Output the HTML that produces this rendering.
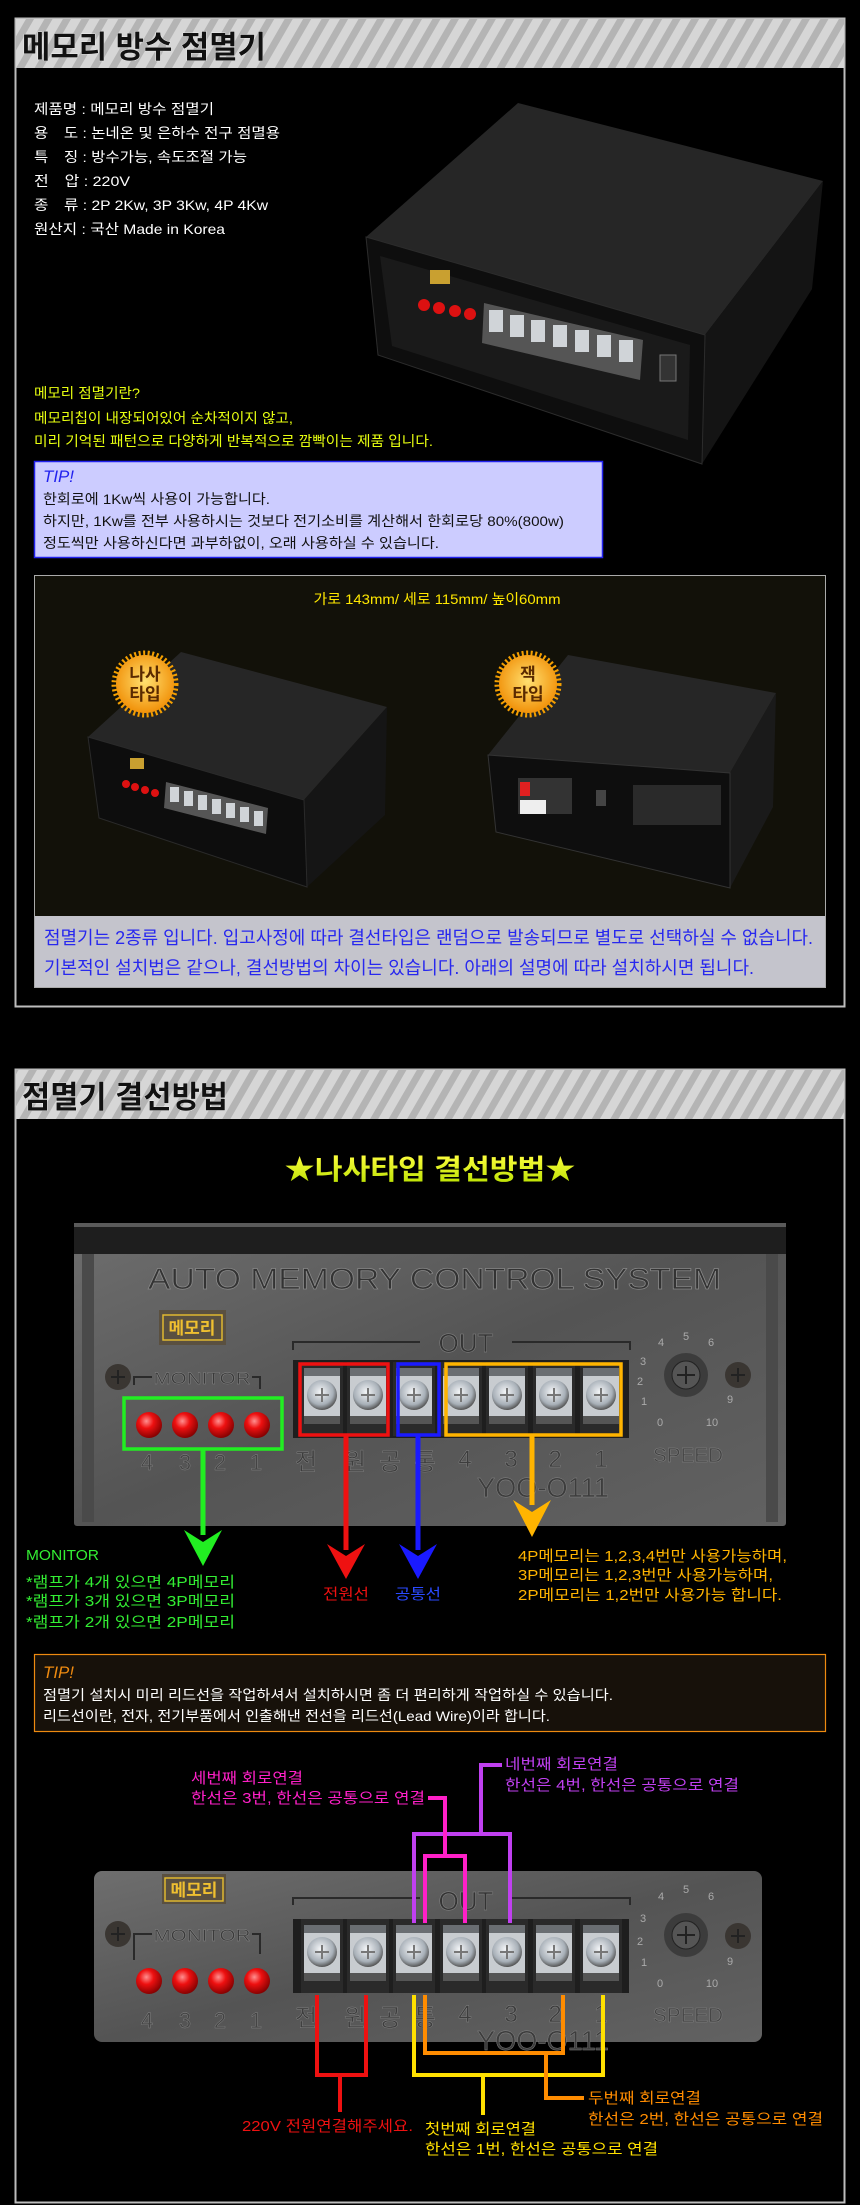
<!DOCTYPE html>
<html><head><meta charset="utf-8"><style>
html,body{margin:0;padding:0;background:#000;}
svg{display:block;}
text{font-family:"Liberation Sans","Noto Sans CJK KR",sans-serif;}
</style></head><body>
<svg width="860" height="2205" viewBox="0 0 860 2205" xmlns="http://www.w3.org/2000/svg">
<defs>
<pattern id="stripe" width="16" height="16" patternUnits="userSpaceOnUse" patternTransform="rotate(30)">
<rect width="16" height="16" fill="#d6d6d6"/><rect width="7" height="16" fill="#b4b4b4"/></pattern>
<linearGradient id="metal" x1="0" y1="0" x2="1" y2="1"><stop offset="0" stop-color="#6e6e6e"/><stop offset="0.5" stop-color="#545454"/><stop offset="1" stop-color="#626262"/></linearGradient>
<radialGradient id="led" cx="0.4" cy="0.35" r="0.7"><stop offset="0" stop-color="#ff9090"/><stop offset="0.4" stop-color="#ee1010"/><stop offset="1" stop-color="#7a0000"/></radialGradient>
<radialGradient id="screw" cx="0.45" cy="0.4" r="0.6"><stop offset="0" stop-color="#f4f6f8"/><stop offset="0.7" stop-color="#a8b0b8"/><stop offset="1" stop-color="#555"/></radialGradient>
<radialGradient id="badge" cx="0.5" cy="0.45" r="0.6"><stop offset="0" stop-color="#ffe070"/><stop offset="1" stop-color="#f08a00"/></radialGradient>
<linearGradient id="ttl" x1="0" y1="0" x2="0" y2="1"><stop offset="0" stop-color="#ffff40"/><stop offset="1" stop-color="#b8e000"/></linearGradient>
<g id="term"><rect x="-21" y="0" width="42" height="74" fill="#2a2a2a"/><rect x="-18" y="6" width="36" height="56" fill="#c8ccd0"/><rect x="-18" y="6" width="36" height="8" fill="#6a6e72"/><circle cx="0" cy="33" r="15" fill="url(#screw)"/><path d="M-7 33h14M0 26v14" stroke="#777" stroke-width="2"/><rect x="-18" y="54" width="36" height="8" fill="#555"/></g>
</defs>
<rect width="860" height="2205" fill="#000"/>

<!-- SECTION 1 -->
<rect x="15.5" y="18.5" width="829" height="988" fill="#000" stroke="#bdbdbd" stroke-width="2"/>
<rect x="16" y="19" width="828" height="49" fill="url(#stripe)"/>
<text x="22" y="58" font-size="31" font-weight="bold" fill="#111" stroke="#fff" stroke-width="0.6" paint-order="stroke" textLength="244" lengthAdjust="spacingAndGlyphs">메모리 방수 점멸기</text>

<g font-size="14" fill="#fff">
<text x="34" y="114" textLength="180" lengthAdjust="spacingAndGlyphs">제품명 : 메모리 방수 점멸기</text>
<text x="34" y="138" textLength="246" lengthAdjust="spacingAndGlyphs">용　도 : 논네온 및 은하수 전구 점멸용</text>
<text x="34" y="162" textLength="213" lengthAdjust="spacingAndGlyphs">특　징 : 방수가능, 속도조절 가능</text>
<text x="34" y="186" textLength="96" lengthAdjust="spacingAndGlyphs">전　압 : 220V</text>
<text x="34" y="210" textLength="234" lengthAdjust="spacingAndGlyphs">종　류 : 2P 2Kw, 3P 3Kw, 4P 4Kw</text>
<text x="34" y="234" textLength="191" lengthAdjust="spacingAndGlyphs">원산지 : 국산 Made in Korea</text>
</g>

<!-- product 1 -->
<polygon points="366,237 518,103 823,181 705,335" fill="#262626"/>
<polygon points="705,335 823,181 812,289 702,464" fill="#141414"/>
<polygon points="366,237 705,335 702,464 378,355" fill="#0e0e0e" stroke="#2c2c2c"/>
<polygon points="380,256 690,345 688,440 392,346" fill="#1a1a1a"/>
<rect x="430" y="270" width="20" height="14" fill="#c9a030"/>
<g fill="#dd1111"><circle cx="424" cy="305" r="6"/><circle cx="439" cy="308" r="6"/><circle cx="455" cy="311" r="6"/><circle cx="470" cy="314" r="6"/></g>
<polygon points="484,303 643,340 640,380 482,343" fill="#555"/>
<g fill="#d0d4d8"><rect x="489" y="310" width="14" height="22"/><rect x="510" y="315" width="14" height="22"/><rect x="531" y="320" width="14" height="22"/><rect x="553" y="325" width="14" height="22"/><rect x="575" y="330" width="14" height="22"/><rect x="597" y="335" width="14" height="22"/><rect x="619" y="340" width="14" height="22"/></g>
<rect x="660" y="355" width="16" height="26" fill="#333" stroke="#777"/>

<g font-size="14" fill="#e8ff10">
<text x="34" y="398" textLength="106" lengthAdjust="spacingAndGlyphs">메모리 점멸기란?</text>
<text x="34" y="423" textLength="259" lengthAdjust="spacingAndGlyphs">메모리칩이 내장되어있어 순차적이지 않고,</text>
<text x="34" y="446" textLength="399" lengthAdjust="spacingAndGlyphs">미리 기억된 패턴으로 다양하게 반복적으로 깜빡이는 제품 입니다.</text>
</g>

<rect x="34.5" y="461.5" width="568" height="96" fill="#ccccff" stroke="#2222ee" stroke-width="1.5"/>
<text x="43" y="482" font-size="17" fill="#2222ee" font-style="italic" textLength="31" lengthAdjust="spacingAndGlyphs">TIP!</text>
<g font-size="14" fill="#111">
<text x="43" y="504" textLength="227" lengthAdjust="spacingAndGlyphs">한회로에 1Kw씩 사용이 가능합니다.</text>
<text x="43" y="526" textLength="521" lengthAdjust="spacingAndGlyphs">하지만, 1Kw를 전부 사용하시는 것보다 전기소비를 계산해서 한회로당 80%(800w)</text>
<text x="43" y="548" textLength="396" lengthAdjust="spacingAndGlyphs">정도씩만 사용하신다면 과부하없이, 오래 사용하실 수 있습니다.</text>
</g>

<rect x="34.5" y="575.5" width="791" height="412" fill="#121109" stroke="#aaa" stroke-width="1"/>
<text x="437" y="604" font-size="14" fill="#ffe800" text-anchor="middle" textLength="247" lengthAdjust="spacingAndGlyphs">가로 143mm/ 세로 115mm/ 높이60mm</text>

<!-- left box -->
<polygon points="88,737 181,652 387,707 304,800" fill="#262626"/>
<polygon points="304,800 387,707 385,815 307,887" fill="#151515"/>
<polygon points="88,737 304,800 307,887 99,818" fill="#0d0d0d" stroke="#2a2a2a"/>
<g fill="#dd1111"><circle cx="126" cy="784" r="4"/><circle cx="135" cy="787" r="4"/><circle cx="145" cy="790" r="4"/><circle cx="155" cy="793" r="4"/></g>
<polygon points="166,782 268,808 266,834 164,808" fill="#555"/>
<g fill="#d0d4d8"><rect x="170" y="787" width="9" height="15"/><rect x="184" y="791" width="9" height="15"/><rect x="198" y="795" width="9" height="15"/><rect x="212" y="799" width="9" height="15"/><rect x="226" y="803" width="9" height="15"/><rect x="240" y="807" width="9" height="15"/><rect x="254" y="811" width="9" height="15"/></g>
<rect x="130" y="758" width="14" height="11" fill="#c9a030"/>
<!-- right box -->
<polygon points="488,755 568,655 776,693 730,773" fill="#262626"/>
<polygon points="730,773 776,693 773,807 730,888" fill="#1a1a1a"/>
<polygon points="488,755 730,773 730,888 496,832" fill="#0e0e0e" stroke="#333"/>
<rect x="518" y="778" width="54" height="36" fill="#333"/><rect x="520" y="782" width="10" height="14" fill="#e02020"/><rect x="520" y="800" width="26" height="14" fill="#eee"/>
<rect x="633" y="785" width="88" height="40" fill="#2a2a2a"/>
<rect x="596" y="790" width="10" height="16" fill="#444"/>
<!-- badges -->
<g><circle cx="145" cy="684" r="31" fill="none" stroke="#f5a000" stroke-width="5" stroke-dasharray="2 2.5"/><circle cx="145" cy="684" r="29" fill="url(#badge)"/>
<text x="145" y="680" font-size="17" font-weight="bold" fill="#5a2a00" text-anchor="middle">나사</text><text x="145" y="700" font-size="17" font-weight="bold" fill="#5a2a00" text-anchor="middle">타입</text></g>
<g><circle cx="528" cy="684" r="31" fill="none" stroke="#f5a000" stroke-width="5" stroke-dasharray="2 2.5"/><circle cx="528" cy="684" r="29" fill="url(#badge)"/>
<text x="528" y="680" font-size="17" font-weight="bold" fill="#5a2a00" text-anchor="middle">잭</text><text x="528" y="700" font-size="17" font-weight="bold" fill="#5a2a00" text-anchor="middle">타입</text></g>

<rect x="35" y="916" width="790" height="71" fill="#c4c4cc"/>
<g font-size="18" fill="#2828ee">
<text x="44" y="944" textLength="769" lengthAdjust="spacingAndGlyphs">점멸기는 2종류 입니다. 입고사정에 따라 결선타입은 랜덤으로 발송되므로 별도로 선택하실 수 없습니다.</text>
<text x="44" y="974" textLength="710" lengthAdjust="spacingAndGlyphs">기본적인 설치법은 같으나, 결선방법의 차이는 있습니다. 아래의 설명에 따라 설치하시면 됩니다.</text>
</g>

<!-- SECTION 2 -->
<rect x="15.5" y="1069.5" width="829" height="1133" fill="#000" stroke="#bdbdbd" stroke-width="2"/>
<rect x="16" y="1070" width="828" height="49" fill="url(#stripe)"/>
<text x="22" y="1108" font-size="31" font-weight="bold" fill="#111" stroke="#fff" stroke-width="0.6" paint-order="stroke" textLength="206" lengthAdjust="spacingAndGlyphs">점멸기 결선방법</text>

<text x="430" y="1179" font-size="28" font-weight="bold" fill="url(#ttl)" text-anchor="middle" textLength="291" lengthAdjust="spacingAndGlyphs">★나사타입 결선방법★</text>

<!-- panel 1 -->
<rect x="74" y="1223" width="712" height="303" rx="3" fill="url(#metal)"/>
<rect x="74" y="1223" width="712" height="31" fill="#1e1e1e"/>
<rect x="74" y="1223" width="712" height="4" fill="#5a5a5a"/>
<rect x="82" y="1254" width="12" height="268" fill="#4a4a4a"/><rect x="766" y="1254" width="12" height="268" fill="#4a4a4a"/>
<text x="148" y="1289" font-size="30" fill="#333" stroke="#8a8a8a" stroke-width="0.7" textLength="573" lengthAdjust="spacingAndGlyphs">AUTO MEMORY CONTROL SYSTEM</text>
<rect x="159" y="1310" width="67" height="35" fill="#5a5040"/><rect x="163" y="1315" width="59" height="25" fill="none" stroke="#e0b830" stroke-width="1.5"/>
<text x="192" y="1334" font-size="17" font-weight="bold" fill="#f0c030" text-anchor="middle">메모리</text>
<path d="M293 1350V1342H420M512 1342H630V1350" stroke="#2a2a2a" stroke-width="2" fill="none"/>
<text x="466" y="1352" font-size="26" fill="#333" stroke="#888" stroke-width="0.5" text-anchor="middle">OUT</text>
<circle cx="118" cy="1377" r="13" fill="#3a3632"/><path d="M111 1377h14M118 1370v14" stroke="#222" stroke-width="2"/>
<path d="M134 1385v-8h18M252 1377h8v12" stroke="#2a2a2a" stroke-width="2" fill="none"/>
<text x="202" y="1384" font-size="17" fill="#3a3a3a" stroke="#888" stroke-width="0.4" text-anchor="middle" textLength="97" lengthAdjust="spacingAndGlyphs">MONITOR</text>
<g fill="url(#led)"><ellipse cx="149" cy="1425" rx="13" ry="13"/><ellipse cx="185" cy="1425" rx="13" ry="13"/><ellipse cx="221" cy="1425" rx="13" ry="13"/><ellipse cx="257" cy="1425" rx="13" ry="13"/></g>
<g font-size="22" fill="#444" stroke="#888" stroke-width="0.4" text-anchor="middle"><text x="147" y="1470">4</text><text x="185" y="1470">3</text><text x="220" y="1470">2</text><text x="256" y="1470">1</text></g>
<rect x="293" y="1360" width="336" height="78" fill="#1e1e1e"/>
<use href="#term" x="322" y="1362"/><use href="#term" x="368" y="1362"/><use href="#term" x="414" y="1362"/><use href="#term" x="461" y="1362"/><use href="#term" x="507" y="1362"/><use href="#term" x="554" y="1362"/><use href="#term" x="601" y="1362"/>
<g font-size="24" fill="#3d3d3d" stroke="#888" stroke-width="0.4" text-anchor="middle"><text x="306" y="1470">전</text><text x="355" y="1470">원</text><text x="390" y="1470">공</text><text x="425" y="1470">통</text><text x="465" y="1467">4</text><text x="511" y="1467">3</text><text x="555" y="1467">2</text><text x="601" y="1467">1</text></g>
<text x="543" y="1497" font-size="28" fill="#3d3d3d" stroke="#888" stroke-width="0.4" text-anchor="middle" textLength="132" lengthAdjust="spacingAndGlyphs">YOO-O111</text>
<circle cx="686" cy="1375" r="22" fill="#3c3c3c"/><circle cx="686" cy="1375" r="14" fill="#555" stroke="#222"/><path d="M677 1375h18M686 1366v18" stroke="#222" stroke-width="2"/>
<circle cx="738" cy="1375" r="13" fill="#3a3632"/><path d="M731 1375h14M738 1368v14" stroke="#222" stroke-width="2"/>
<text x="688" y="1462" font-size="20" fill="#444" stroke="#888" stroke-width="0.4" text-anchor="middle" textLength="70" lengthAdjust="spacingAndGlyphs">SPEED</text>
<g font-size="11" fill="#aaa" text-anchor="middle"><text x="686" y="1340">5</text><text x="661" y="1346">4</text><text x="711" y="1346">6</text><text x="643" y="1365">3</text><text x="640" y="1385">2</text><text x="644" y="1405">1</text><text x="660" y="1426">0</text><text x="712" y="1426">10</text><text x="730" y="1403">9</text></g>
<!-- highlight boxes -->
<rect x="124" y="1398" width="158" height="51" fill="none" stroke="#22ee22" stroke-width="3.5"/>
<rect x="300" y="1364" width="88" height="71" fill="none" stroke="#ee1111" stroke-width="3.5"/>
<rect x="398" y="1364" width="41" height="71" fill="none" stroke="#1a1aff" stroke-width="3.5"/>
<rect x="446" y="1364" width="175" height="71" fill="none" stroke="#ffb400" stroke-width="3.5"/>
<!-- arrows -->
<path d="M203 1449V1535" stroke="#22ee22" stroke-width="5"/><polygon points="184,1530 203,1542 222,1530 203,1566" fill="#22ee22"/>
<path d="M346 1435V1550" stroke="#ee1111" stroke-width="5"/><polygon points="327,1544 346,1556 365,1544 346,1579" fill="#ee1111"/>
<path d="M418 1435V1550" stroke="#1a1aff" stroke-width="5"/><polygon points="399,1544 418,1556 437,1544 418,1579" fill="#1a1aff"/>
<path d="M532 1435V1505" stroke="#ffb400" stroke-width="5"/><polygon points="513,1500 532,1512 551,1500 532,1537" fill="#ffb400"/>

<g font-size="15" fill="#33ee33">
<text x="26" y="1560" textLength="73" lengthAdjust="spacingAndGlyphs">MONITOR</text>
<text x="26" y="1587" textLength="209" lengthAdjust="spacingAndGlyphs">*램프가 4개 있으면 4P메모리</text>
<text x="26" y="1606" textLength="209" lengthAdjust="spacingAndGlyphs">*램프가 3개 있으면 3P메모리</text>
<text x="26" y="1627" textLength="209" lengthAdjust="spacingAndGlyphs">*램프가 2개 있으면 2P메모리</text>
</g>
<text x="346" y="1599" font-size="15" fill="#ee1111" text-anchor="middle" textLength="46" lengthAdjust="spacingAndGlyphs">전원선</text>
<text x="418" y="1599" font-size="15" fill="#2a4aff" text-anchor="middle" textLength="46" lengthAdjust="spacingAndGlyphs">공통선</text>
<g font-size="15" fill="#ffb400">
<text x="518" y="1561" textLength="269" lengthAdjust="spacingAndGlyphs">4P메모리는 1,2,3,4번만 사용가능하며,</text>
<text x="518" y="1580" textLength="255" lengthAdjust="spacingAndGlyphs">3P메모리는 1,2,3번만 사용가능하며,</text>
<text x="518" y="1600" textLength="264" lengthAdjust="spacingAndGlyphs">2P메모리는 1,2번만 사용가능 합니다.</text>
</g>

<!-- TIP 2 -->
<rect x="34.5" y="1654.5" width="791" height="77" fill="#17110a" stroke="#ee8a10" stroke-width="1.2"/>
<text x="43" y="1678" font-size="17" fill="#ee8a10" font-style="italic" textLength="31" lengthAdjust="spacingAndGlyphs">TIP!</text>
<g font-size="14" fill="#fff">
<text x="43" y="1700" textLength="570" lengthAdjust="spacingAndGlyphs">점멸기 설치시 미리 리드선을 작업하셔서 설치하시면 좀 더 편리하게 작업하실 수 있습니다.</text>
<text x="43" y="1721" textLength="507" lengthAdjust="spacingAndGlyphs">리드선이란, 전자, 전기부품에서 인출해낸 전선을 리드선(Lead Wire)이라 합니다.</text>
</g>

<!-- panel 2 -->
<rect x="94" y="1871" width="668" height="171" rx="8" fill="url(#metal)"/>
<rect x="162" y="1874" width="64" height="30" fill="#5a5040"/><rect x="165" y="1878" width="58" height="23" fill="none" stroke="#e0b830" stroke-width="1.5"/>
<text x="194" y="1896" font-size="17" font-weight="bold" fill="#f0c030" text-anchor="middle">메모리</text>
<path d="M293 1905V1898H420M512 1898H630V1905" stroke="#2a2a2a" stroke-width="2" fill="none"/>
<text x="466" y="1910" font-size="26" fill="#333" stroke="#888" stroke-width="0.5" text-anchor="middle">OUT</text>
<circle cx="118" cy="1934" r="13" fill="#3a3632"/><path d="M111 1934h14M118 1927v14" stroke="#222" stroke-width="2"/>
<path d="M134 1960v-26h18M252 1934h8v20" stroke="#2a2a2a" stroke-width="2" fill="none"/>
<text x="202" y="1941" font-size="17" fill="#3a3a3a" stroke="#888" stroke-width="0.4" text-anchor="middle" textLength="97" lengthAdjust="spacingAndGlyphs">MONITOR</text>
<g fill="url(#led)"><ellipse cx="149" cy="1981" rx="13" ry="13"/><ellipse cx="185" cy="1981" rx="13" ry="13"/><ellipse cx="221" cy="1981" rx="13" ry="13"/><ellipse cx="257" cy="1981" rx="13" ry="13"/></g>
<g font-size="22" fill="#444" stroke="#888" stroke-width="0.4" text-anchor="middle"><text x="147" y="2028">4</text><text x="185" y="2028">3</text><text x="220" y="2028">2</text><text x="256" y="2028">1</text></g>
<rect x="293" y="1919" width="336" height="74" fill="#1e1e1e"/>
<use href="#term" x="322" y="1919"/><use href="#term" x="368" y="1919"/><use href="#term" x="414" y="1919"/><use href="#term" x="461" y="1919"/><use href="#term" x="507" y="1919"/><use href="#term" x="554" y="1919"/><use href="#term" x="601" y="1919"/>
<g font-size="24" fill="#3d3d3d" stroke="#888" stroke-width="0.4" text-anchor="middle"><text x="306" y="2026">전</text><text x="355" y="2026">원</text><text x="390" y="2026">공</text><text x="425" y="2026">통</text><text x="465" y="2022">4</text><text x="511" y="2022">3</text><text x="555" y="2022">2</text><text x="601" y="2022">1</text></g>
<text x="543" y="2050" font-size="28" fill="#3d3d3d" stroke="#888" stroke-width="0.4" text-anchor="middle" textLength="132" lengthAdjust="spacingAndGlyphs">YOO-O111</text>
<circle cx="686" cy="1935" r="22" fill="#3c3c3c"/><circle cx="686" cy="1935" r="14" fill="#555" stroke="#222"/><path d="M677 1935h18M686 1926v18" stroke="#222" stroke-width="2"/>
<circle cx="738" cy="1936" r="13" fill="#3a3632"/><path d="M731 1936h14M738 1929v14" stroke="#222" stroke-width="2"/>
<text x="688" y="2022" font-size="20" fill="#444" stroke="#888" stroke-width="0.4" text-anchor="middle" textLength="70" lengthAdjust="spacingAndGlyphs">SPEED</text>
<g font-size="11" fill="#aaa" text-anchor="middle"><text x="686" y="1893">5</text><text x="661" y="1900">4</text><text x="711" y="1900">6</text><text x="643" y="1922">3</text><text x="640" y="1945">2</text><text x="644" y="1966">1</text><text x="660" y="1987">0</text><text x="712" y="1987">10</text><text x="730" y="1965">9</text></g>

<!-- wires -->
<g fill="none" stroke-width="4" stroke-linejoin="miter">
<path d="M414 1923V1834H510V1923M481 1834V1765H502" stroke="#c040f0"/>
<path d="M425 1923V1856H465V1923M445 1856V1798H428" stroke="#ff20c8"/>
<path d="M317 1995V2075H366V1995M340 2075V2112" stroke="#ee1111"/>
<path d="M414 1995V2075H603V1995M483 2075V2115" stroke="#ffe000"/>
<path d="M425 1995V2053H563V1995M546 2053V2098H584" stroke="#ff8c00"/>
</g>
<g font-size="15">
<text x="191" y="1783" fill="#ff20c8" textLength="112" lengthAdjust="spacingAndGlyphs">세번째 회로연결</text>
<text x="191" y="1803" fill="#ff20c8" textLength="234" lengthAdjust="spacingAndGlyphs">한선은 3번, 한선은 공통으로 연결</text>
<text x="505" y="1769" fill="#c040f0" textLength="113" lengthAdjust="spacingAndGlyphs">네번째 회로연결</text>
<text x="505" y="1790" fill="#c040f0" textLength="234" lengthAdjust="spacingAndGlyphs">한선은 4번, 한선은 공통으로 연결</text>
<text x="242" y="2131" fill="#ee1111" textLength="171" lengthAdjust="spacingAndGlyphs">220V 전원연결해주세요.</text>
<text x="425" y="2134" fill="#ffe000" textLength="111" lengthAdjust="spacingAndGlyphs">첫번째 회로연결</text>
<text x="425" y="2154" fill="#ffe000" textLength="233" lengthAdjust="spacingAndGlyphs">한선은 1번, 한선은 공통으로 연결</text>
<text x="588" y="2103" fill="#ff8c00" textLength="113" lengthAdjust="spacingAndGlyphs">두번째 회로연결</text>
<text x="588" y="2124" fill="#ff8c00" textLength="235" lengthAdjust="spacingAndGlyphs">한선은 2번, 한선은 공통으로 연결</text>
</g>
</svg>
</body></html>
